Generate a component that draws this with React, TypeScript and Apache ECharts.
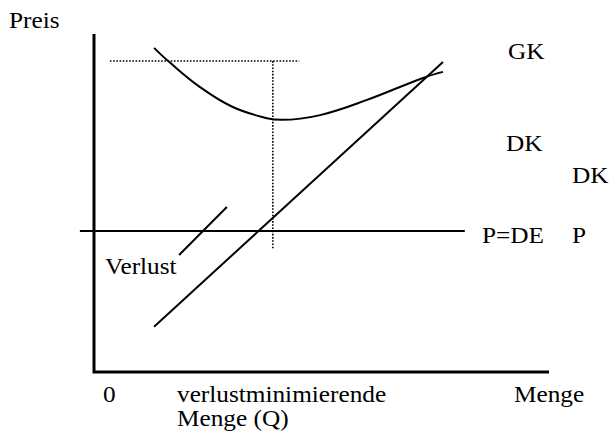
import React, { useEffect, useRef } from "react";
import * as echarts from "echarts";

// Data space: Menge (x) 0..10, Preis (y) 0..10
const axesFrame: [number, number][] = [
  [0, 10],
  [0, 0],
  [10, 0],
];
const gkCurve: [number, number][] = [
  [1.32, 9.59],
  [1.63, 9.2],
  [2.33, 8.43],
  [3.05, 7.84],
  [3.8, 7.51],
  [4.13, 7.46],
  [4.97, 7.6],
  [6.0, 8.05],
  [7.23, 8.7],
  [7.67, 8.88],
];
const dkLine: [number, number][] = [
  [1.32, 1.34],
  [7.67, 9.17],
];
const verlustPointer: [number, number][] = [
  [1.87, 3.46],
  [2.92, 4.88],
];
const priceLine: [number, number][] = [
  [-0.31, 4.17],
  [8.15, 4.17],
];
const dottedH: [number, number][] = [
  [0.35, 9.2],
  [4.51, 9.2],
];
const dottedV: [number, number][] = [
  [3.93, 9.2],
  [3.93, 3.64],
];
const labelTexts = {
  yTitle: "Preis",
  gk: "GK",
  dk1: "DK",
  dk2: "DK",
  pde: "P=DE",
  p: "P",
  verlust: "Verlust",
  zero: "0",
  qLine1: "verlustminimierende",
  qLine2: "Menge (Q)",
  xTitle: "Menge",
};

const X_MIN = -0.4;

export default function App() {
  const ref = useRef<HTMLDivElement>(null);
  useEffect(() => {
    document.body.style.margin = "0";
    if (!ref.current) return;
    const chart = echarts.init(ref.current, undefined, { renderer: "svg" });
    const txt = (text: string, x: number, y: number) => ({
      type: "text",
      x,
      y,
      scaleX: 1.1,
      silent: true,
      style: {
        text,
        fill: "#000",
        fontFamily: "Liberation Serif",
        fontSize: 23,
        textAlign: "left",
        textVerticalAlign: "middle",
        align: "left",
        verticalAlign: "middle",
      },
    });
    const lineSeries = (data: [number, number][], extra: any = {}) => ({
      type: "line",
      data,
      symbol: "none",
      silent: true,
      clip: false,
      lineStyle: { color: "#000", width: 2, join: "miter", ...(extra.lineStyle || {}) },
      smooth: extra.smooth || false,
    });
    const unit = 45.5;
    chart.setOption({
      animation: false,
      backgroundColor: "#fff",
      grid: { left: 94 + X_MIN * unit, top: 34, width: (10 - X_MIN) * unit, height: 338 },
      xAxis: {
        type: "value",
        min: X_MIN,
        max: 10,
        show: false,
      },
      yAxis: {
        type: "value",
        min: 0,
        max: 10,
        show: false,
      },
      series: [
        lineSeries(axesFrame, { lineStyle: { width: 3 } }),
        lineSeries(gkCurve, { smooth: 0.4 }),
        lineSeries(dkLine),
        lineSeries(verlustPointer),
        lineSeries(priceLine),
        lineSeries(dottedH, { lineStyle: { width: 1.6, type: [1.6, 1.6] } }),
        lineSeries(dottedV, { lineStyle: { width: 1.6, type: [1.6, 1.6] } }),
      ],
      graphic: [
        txt(labelTexts.yTitle, 9, 20),
        txt(labelTexts.gk, 508, 51),
        txt(labelTexts.dk1, 506, 143),
        txt(labelTexts.dk2, 572, 175),
        txt(labelTexts.pde, 482, 235),
        txt(labelTexts.p, 572, 235),
        txt(labelTexts.verlust, 105, 266),
        txt(labelTexts.zero, 103, 394),
        txt(labelTexts.qLine1, 177, 394),
        txt(labelTexts.qLine2, 177, 418),
        txt(labelTexts.xTitle, 514, 394),
      ],
    });
    return () => chart.dispose();
  }, []);
  return <div ref={ref} style={{ width: 612, height: 432 }} />;
}
